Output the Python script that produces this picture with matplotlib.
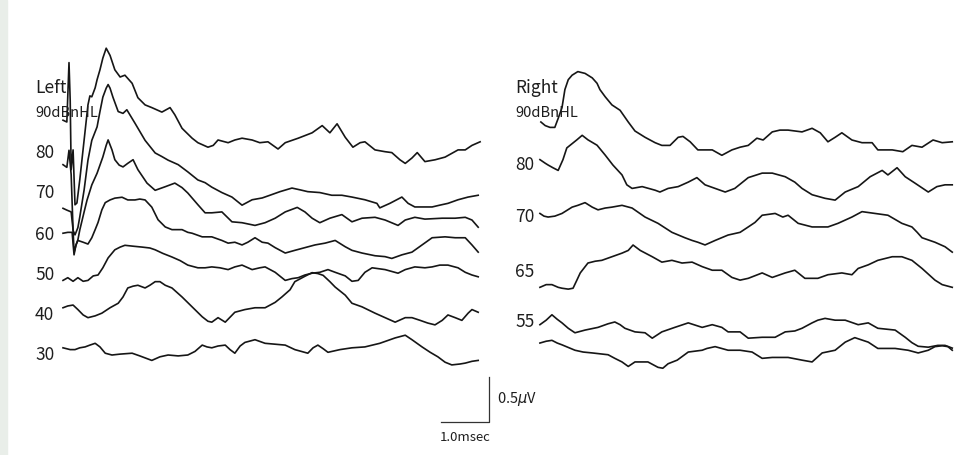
import numpy as np
import matplotlib
matplotlib.use("Agg")
import matplotlib.pyplot as plt
from matplotlib.patches import Rectangle

plt.rcParams['font.family'] = ['Noto Sans CJK JP', 'DejaVu Sans']

# ---------------- data: ABR waveforms, time in ms, amplitude in uV ----------------
left_labels = ['90dBnHL', '80', '70', '60', '50', '40', '30']
right_labels = ['90dBnHL', '80', '70', '65', '55', '']

L90_t = [0, .08, .125, .15, .17, .21, .25, .29, .35, .44, .52, .56, .60, .67, .71, .77, .83, .90, .98, 1.08,
         1.19, 1.29, 1.44, 1.56, 1.71, 1.85, 2.06, 2.23, 2.33, 2.48, 2.69, 2.81, 3.02, 3.13, 3.23, 3.44, 3.58,
         3.73, 3.94, 4.10, 4.27, 4.48, 4.63, 4.90, 5.19, 5.40, 5.56, 5.71, 5.88, 6.04, 6.19, 6.29, 6.50, 6.71,
         6.85, 7.02, 7.13, 7.27, 7.38, 7.54, 7.75, 7.96, 8.23, 8.38, 8.52, 8.69]
L90_v = [-.08, -.10, .56, .14, -.63, -.41, -1.02, -1.00, -.74, -.30, .09, .19, .18, .28, .37, .48, .61, .72, .64,
         .48, .40, .42, .33, .17, .09, .06, .01, .06, -.02, -.17, -.28, -.33, -.38, -.36, -.30, -.33, -.30, -.28,
         -.30, -.33, -.32, -.40, -.33, -.28, -.22, -.14, -.22, -.12, -.27, -.38, -.33, -.32, -.41, -.43, -.44,
         -.52, -.56, -.50, -.44, -.54, -.52, -.49, -.41, -.41, -.36, -.32]

L80_t = [0, .08, .125, .17, .21, .25, .31, .35, .44, .52, .60, .71, .77, .83, .90, .94, .98, 1.04, 1.15, 1.25,
         1.33, 1.50, 1.71, 1.92, 2.06, 2.19, 2.40, 2.60, 2.81, 2.96, 3.10, 3.31, 3.52, 3.73, 3.94, 4.15, 4.31,
         4.52, 4.77, 4.94, 5.10, 5.35, 5.60, 5.81, 6.02, 6.29, 6.54, 6.60, 6.81, 7.06, 7.19, 7.33, 7.54, 7.69,
         7.85, 8.02, 8.23, 8.44, 8.65]
L80_v = [-.13, -.16, .03, -.24, -.86, -.91, -.83, -.71, -.41, -.08, .14, .29, .46, .62, .72, .76, .72, .62, .46,
         .44, .48, .33, .14, 0, -.04, -.08, -.13, -.21, -.30, -.33, -.38, -.44, -.49, -.58, -.52, -.50, -.47,
         -.43, -.39, -.41, -.43, -.44, -.47, -.47, -.49, -.52, -.56, -.61, -.56, -.49, -.56, -.60, -.60, -.60,
         -.58, -.56, -.52, -.49, -.47]

L70_t = [0, .08, .17, .21, .23, .27, .31, .35, .44, .50, .60, .71, .83, .90, .94, 1.02, 1.08, 1.17, 1.25, 1.35,
         1.46, 1.56, 1.75, 1.92, 2.13, 2.33, 2.48, 2.60, 2.81, 2.96, 3.10, 3.31, 3.52, 3.73, 4.00, 4.21, 4.42,
         4.63, 4.88, 5.04, 5.19, 5.35, 5.56, 5.81, 6.02, 6.23, 6.50, 6.71, 6.98, 7.13, 7.33, 7.54, 7.90, 8.17,
         8.38, 8.52, 8.65]
L70_v = [-.17, -.19, -.21, -.41, -.66, -.58, -.52, -.41, -.21, -.08, .09, .22, .40, .53, .59, .48, .37, .31, .29,
         .33, .37, .26, .11, .03, .07, .11, .06, 0, -.13, -.22, -.22, -.21, -.32, -.33, -.36, -.33, -.28, -.21,
         -.16, -.21, -.28, -.33, -.28, -.24, -.32, -.28, -.27, -.30, -.36, -.30, -.27, -.29, -.28, -.28, -.27,
         -.30, -.38]

L60_t = [0, .10, .19, .23, .27, .31, .42, .52, .60, .67, .73, .81, .88, .98, 1.08, 1.23, 1.35, 1.50, 1.60, 1.71,
         1.85, 1.98, 2.13, 2.27, 2.48, 2.60, 2.69, 2.90, 3.10, 3.31, 3.44, 3.58, 3.73, 3.85, 4.00, 4.15, 4.27,
         4.42, 4.63, 4.83, 5.04, 5.25, 5.46, 5.67, 5.88, 6.02, 6.23, 6.50, 6.71, 6.85, 7.06, 7.27, 7.48, 7.69,
         7.96, 8.17, 8.38, 8.52, 8.65]
L60_v = [.02, .03, .03, -.22, -.11, -.06, -.08, -.10, -.03, .06, .14, .28, .36, .39, .41, .42, .39, .39, .40,
         .39, .31, .17, .09, .06, .06, .03, .02, -.02, -.02, -.06, -.09, -.08, -.11, -.08, -.03, -.08, -.09,
         -.14, -.20, -.17, -.14, -.11, -.09, -.06, -.13, -.17, -.20, -.23, -.24, -.26, -.22, -.19, -.11, -.03,
         -.02, -.03, -.03, -.11, -.19]

L50_t = [0, .10, .21, .31, .42, .52, .63, .73, .83, .94, 1.08, 1.19, 1.29, 1.46, 1.65, 1.81, 1.92, 2.08, 2.27,
         2.44, 2.60, 2.81, 2.96, 3.10, 3.27, 3.44, 3.58, 3.73, 3.94, 4.10, 4.21, 4.42, 4.63, 4.77, 4.90, 5.04,
         5.19, 5.35, 5.52, 5.67, 5.88, 6.02, 6.15, 6.29, 6.44, 6.71, 6.98, 7.13, 7.33, 7.54, 7.69, 7.85, 8.02,
         8.23, 8.38, 8.52, 8.65]
L50_v = [-.06, -.03, -.07, -.03, -.07, -.06, -.01, 0, .08, .19, .28, .31, .33, .32, .31, .30, .28, .24, .20,
         .16, .11, .08, .08, .09, .08, .06, .09, .11, .06, .08, .09, .03, -.06, -.04, -.03, 0, .02, .03, .06,
         .03, -.01, -.07, -.06, .03, .08, .06, .02, .06, .09, .08, .09, .11, .11, .08, .03, 0, -.02]

L40_t = [0, .10, .21, .31, .42, .52, .67, .81, .98, 1.15, 1.25, 1.35, 1.46, 1.56, 1.71, 1.81, 1.92, 2.02, 2.13,
         2.27, 2.48, 2.69, 2.90, 3.02, 3.10, 3.23, 3.38, 3.58, 3.79, 4.00, 4.21, 4.42, 4.56, 4.73, 4.83, 5.04,
         5.19, 5.31, 5.42, 5.56, 5.67, 5.88, 6.02, 6.23, 6.50, 6.71, 6.92, 7.13, 7.27, 7.44, 7.60, 7.75, 7.90,
         8.02, 8.17, 8.31, 8.44, 8.52, 8.65]
L40_v = [.08, .10, .11, .06, 0, -.03, -.01, .02, .08, .13, .20, .30, .32, .33, .30, .33, .37, .37, .33, .30,
         .20, .09, -.02, -.07, -.08, -.03, -.08, .03, .06, .08, .08, .14, .20, .28, .37, .43, .47, .46, .44, .37,
         .31, .22, .13, .09, .02, -.03, -.08, -.03, -.03, -.06, -.09, -.11, -.06, 0, -.03, -.06, .02, .06, .03]

L30_t = [0, .15, .25, .35, .46, .56, .67, .77, .88, 1.02, 1.19, 1.44, 1.60, 1.85, 2.02, 2.19, 2.40, 2.60, 2.75,
         2.90, 3.00, 3.10, 3.23, 3.38, 3.48, 3.58, 3.69, 3.79, 4.00, 4.21, 4.42, 4.63, 4.83, 5.10, 5.21, 5.31,
         5.42, 5.52, 5.77, 6.02, 6.29, 6.60, 6.92, 7.13, 7.27, 7.48, 7.65, 7.81, 7.96, 8.10, 8.27, 8.38, 8.52,
         8.65]
L30_v = [.08, .06, .06, .08, .09, .11, .13, .09, .02, 0, .01, .02, -.01, -.06, -.02, 0, -.01, 0, .04, .11, .09,
         .08, .10, .11, .06, .02, .10, .14, .17, .13, .12, .11, .06, .02, .08, .11, .07, .03, .06, .08, .09, .13,
         .19, .22, .17, .09, .03, -.02, -.08, -.11, -.10, -.09, -.07, -.06]

R90_t = [.06, .15, .25, .35, .42, .50, .56, .63, .71, .83, .98, 1.13, 1.23, 1.29, 1.40, 1.54, 1.71, 1.88, 2.02,
         2.23, 2.44, 2.58, 2.75, 2.92, 3.02, 3.17, 3.33, 3.48, 3.63, 3.83, 4.04, 4.21, 4.38, 4.56, 4.69, 4.88,
         5.04, 5.21, 5.50, 5.71, 5.88, 6.04, 6.19, 6.33, 6.54, 6.75, 6.96, 7.08, 7.38, 7.60, 7.79, 8.00, 8.23,
         8.42, 8.63]
R90_v = [-.10, -.14, -.16, -.16, -.06, .06, .26, .37, .42, .46, .44, .39, .33, .26, .18, .09, .03, -.10, -.20,
         -.27, -.33, -.36, -.36, -.27, -.26, -.32, -.41, -.41, -.41, -.47, -.41, -.38, -.36, -.28, -.30, -.21,
         -.19, -.19, -.21, -.17, -.22, -.32, -.27, -.22, -.30, -.33, -.33, -.41, -.41, -.43, -.36, -.38, -.30,
         -.33, -.32]

R80_t = [.04, .15, .21, .31, .42, .52, .60, .67, .81, .92, 1.04, 1.23, 1.40, 1.56, 1.75, 1.85, 1.96, 2.17, 2.44,
         2.54, 2.71, 2.92, 3.13, 3.31, 3.48, 3.69, 3.90, 4.10, 4.38, 4.67, 4.88, 5.15, 5.35, 5.50, 5.71, 5.98,
         6.19, 6.40, 6.67, 6.92, 7.17, 7.29, 7.48, 7.65, 7.85, 8.13, 8.31, 8.48, 8.63]
R80_v = [.06, .02, 0, -.03, -.06, .06, .19, .22, .28, .33, .28, .22, .11, 0, -.11, -.22, -.26, -.24, -.28,
         -.30, -.26, -.24, -.19, -.14, -.22, -.26, -.30, -.26, -.14, -.09, -.09, -.13, -.19, -.26, -.33, -.37,
         -.39, -.30, -.24, -.13, -.06, -.11, -.03, -.13, -.20, -.30, -.24, -.22, -.22]

R70_t = [.04, .125, .21, .35, .50, .71, .83, .98, 1.13, 1.25, 1.40, 1.54, 1.75, 1.96, 2.23, 2.50, 2.79, 3.06,
         3.21, 3.33, 3.48, 3.69, 3.96, 4.21, 4.38, 4.52, 4.67, 4.94, 5.10, 5.21, 5.42, 5.71, 6.04, 6.25, 6.54,
         6.75, 7.02, 7.29, 7.58, 7.79, 7.90, 8.00, 8.27, 8.48, 8.63]
R70_v = [.04, .01, 0, .01, .04, .11, .13, .16, .11, .08, .10, .11, .13, .10, 0, -.07, -.17, -.23, -.26, -.28,
         -.31, -.26, -.20, -.17, -.11, -.06, .02, .04, 0, .02, -.07, -.11, -.11, -.07, 0, .06, .04, .02, -.07,
         -.11, -.17, -.23, -.28, -.33, -.39]

R65_t = [.04, .17, .29, .42, .50, .63, .73, .81, .88, 1.04, 1.19, 1.33, 1.54, 1.75, 1.88, 1.98, 2.13, 2.38,
         2.58, 2.79, 3.00, 3.21, 3.42, 3.63, 3.83, 4.04, 4.21, 4.38, 4.67, 4.88, 5.15, 5.35, 5.56, 5.83, 6.04,
         6.33, 6.54, 6.67, 6.88, 7.08, 7.38, 7.58, 7.79, 8.00, 8.27, 8.42, 8.63]
R65_v = [-.17, -.14, -.14, -.17, -.18, -.19, -.18, -.09, -.01, .10, .12, .13, .17, .21, .24, .30, .24, .17, .11,
         .13, .10, .11, .06, .02, .02, -.06, -.09, -.07, -.01, -.06, -.01, .02, -.07, -.07, -.03, -.01, -.03,
         .04, .08, .13, .17, .17, .13, .04, -.09, -.14, -.17]

R55_t = [.04, .17, .29, .40, .50, .63, .77, .98, 1.25, 1.46, 1.60, 1.71, 1.81, 2.02, 2.23, 2.38, 2.58, 2.85,
         3.13, 3.42, 3.63, 3.83, 3.96, 4.21, 4.38, 4.67, 4.94, 5.15, 5.35, 5.50, 5.71, 5.83, 5.98, 6.19, 6.40,
         6.67, 6.88, 7.08, 7.44, 7.65, 7.79, 7.92, 8.13, 8.33, 8.48, 8.63]
R55_v = [-.03, .02, .08, .03, -.01, -.07, -.12, -.09, -.06, -.02, 0, -.03, -.07, -.11, -.12, -.18, -.11, -.06,
         -.01, -.06, -.03, -.06, -.11, -.11, -.18, -.17, -.17, -.11, -.10, -.07, -.01, .02, .04, .02, .02, -.03,
         -.01, -.07, -.09, -.17, -.23, -.27, -.28, -.26, -.26, -.29]

R6_t = [.04, .17, .29, .40, .50, .77, .94, 1.13, 1.46, 1.60, 1.75, 1.88, 2.02, 2.29, 2.50, 2.60, 2.71, 2.90,
        3.13, 3.42, 3.52, 3.69, 3.96, 4.21, 4.46, 4.67, 4.88, 5.21, 5.50, 5.71, 5.92, 6.19, 6.40, 6.60, 6.88,
        7.08, 7.44, 7.71, 7.92, 8.13, 8.27, 8.42, 8.54, 8.63]
R6_v = [0, .02, .03, 0, -.02, -.08, -.10, -.11, -.13, -.17, -.21, -.26, -.21, -.21, -.27, -.28, -.23, -.19,
        -.10, -.08, -.06, -.04, -.08, -.08, -.10, -.17, -.16, -.16, -.19, -.21, -.11, -.08, .01, .06, .01, -.06,
        -.06, -.08, -.11, -.08, -.04, -.03, -.04, -.08]

left_traces = [(L90_t, L90_v), (L80_t, L80_v), (L70_t, L70_v), (L60_t, L60_v),
               (L50_t, L50_v), (L40_t, L40_v), (L30_t, L30_v)]
right_traces = [(R90_t, R90_v), (R80_t, R80_v), (R70_t, R70_v), (R65_t, R65_v),
                (R55_t, R55_v), (R6_t, R6_v)]

# ---------------- layout (uV / ms positions on the page) ----------------
left_offsets = [3.800, 3.356, 2.911, 2.444, 2.000, 1.556, 1.111]
right_offsets = [3.800, 3.222, 2.644, 2.033, 1.478, 1.244]
right_shift = 9.896          # ms offset of the right panel
label_x_left = -0.583
label_x_right = 9.417

W, H = 961, 455
fig = plt.figure(figsize=(W / 100, H / 100), dpi=100)
fig.patches.append(Rectangle((0, 0), 7 / W, 1, transform=fig.transFigure,
                             color='#e9eee9', zorder=0))
ax = fig.add_axes([0, 0, 1, 1])
ax.set_xlim(-63 / 48, (W - 63) / 48)
ax.set_ylim(0, H / 90)
ax.axis('off')
ax.patch.set_alpha(0)

col = '#161616'
for (t, v), off in zip(left_traces, left_offsets):
    ax.plot(np.array(t), np.array(v) + off, color=col, lw=1.2, solid_joinstyle='round')
for (t, v), off in zip(right_traces, right_offsets):
    ax.plot(np.array(t) + right_shift, np.array(v) + off, color=col, lw=1.2, solid_joinstyle='round')

# panel titles and level labels
txt = '#1e1e1e'
ax.text(label_x_left, 4.078, 'Left', fontsize=12.5, ha='left', va='center', color=txt)
ax.text(label_x_right, 4.078, 'Right', fontsize=12.5, ha='left', va='center', color=txt)
for lab, off in zip(left_labels, left_offsets):
    fs = 10.5 if lab.endswith('HL') else 12.5
    ax.text(label_x_left, off, lab, fontsize=fs, ha='left', va='center', color=txt)
for lab, off in zip(right_labels, right_offsets):
    if not lab:
        continue
    fs = 10.5 if lab.endswith('HL') else 12.5
    ax.text(label_x_right, off, lab, fontsize=fs, ha='left', va='center', color=txt)

# scale bar: 1.0 ms horizontal, 0.5 uV vertical
sb_x, sb_y = 8.875, 0.367
ax.plot([sb_x - 1.0, sb_x, sb_x], [sb_y, sb_y, sb_y + 0.5], color='#333', lw=0.9)
ax.text(sb_x + 0.17, sb_y + 0.25, r'0.5$\mu$V', fontsize=10.5, ha='left', va='center', color=txt)
ax.text(sb_x - 0.5, sb_y - 0.17, '1.0msec', fontsize=9.5, ha='center', va='center', color=txt)

fig.savefig('out.png', dpi=100)
